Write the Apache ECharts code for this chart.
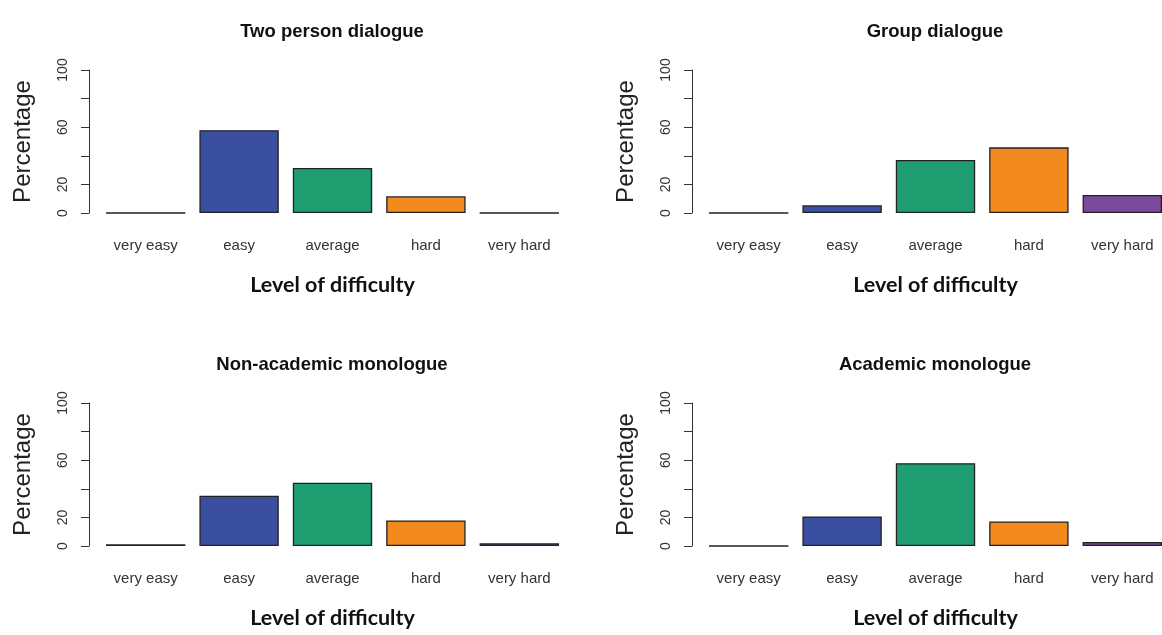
<!DOCTYPE html>
<html>
<head>
<meta charset="utf-8">
<script src="https://cdn.jsdelivr.net/npm/echarts@6/dist/echarts.min.js"></script>
<style>
html,body{margin:0;padding:0;background:#fff;overflow:hidden;}
#c{width:1180px;height:635px;}
</style>
</head>
<body>
<div id="c"></div>
<script>
const categories = ['very easy', 'easy', 'average', 'hard', 'very hard'];
const twoPerson = [0, 57.9, 31.5, 11.7, 0];
const groupDialogue = [0, 5.4, 37.1, 45.9, 12.6];
const nonAcademic = [1.2, 35.1, 44.2, 17.9, 1.9];
const academic = [0, 20.7, 57.9, 17.2, 2.8];
const panelTitles = ['Two person dialogue', 'Group dialogue', 'Non-academic monologue', 'Academic monologue'];
const yTicks = [0, 20, 60, 100];
const xTitle = 'Level of difficulty';
const yTitle = 'Percentage';
const barColors = ['#2b2b2b', '#3a4f9f', '#1f9e72', '#f28a1f', '#7b4a9c'];

const panels = [twoPerson, groupDialogue, nonAcademic, academic];
const gridPos = [
  {left: 99, top: 70},
  {left: 702, top: 70},
  {left: 99, top: 403},
  {left: 702, top: 403}
];
const sans = "'Liberation Sans', Arial, sans-serif";

const grids = [], xAxes = [], yAxes = [], series = [], titles = [];
panels.forEach((vals, i) => {
  const g = gridPos[i];
  grids.push({left: g.left, top: g.top, width: 467, height: 143, containLabel: false});
  titles.push({
    text: panelTitles[i],
    left: g.left + 228, top: g.top - 53, textAlign: 'center',
    textStyle: {fontFamily: sans, fontWeight: 'bold', fontSize: 18.5, color: '#111'}
  });
  xAxes.push({
    type: 'category', gridIndex: i, data: categories,
    axisLine: {show: false}, axisTick: {show: false},
    axisLabel: {fontFamily: sans, fontSize: 15, color: '#333', margin: 25, interval: 0},
    name: xTitle, nameLocation: 'middle', nameGap: 61,
    nameTextStyle: {fontFamily: "Lato, 'Open Sans', sans-serif", fontWeight: 'bold', fontSize: 21.5, color: '#111'}
  });
  yAxes.push({
    type: 'value', gridIndex: i, min: 0, max: 100, interval: 20, offset: 10,
    axisLine: {show: true, lineStyle: {color: '#333', width: 1}},
    axisTick: {show: true, length: 8, lineStyle: {color: '#333', width: 1}},
    splitLine: {show: false},
    axisLabel: {
      rotate: 90, fontFamily: sans, fontSize: 14, color: '#333', margin: 19,
      formatter: v => (yTicks.indexOf(v) >= 0 ? String(v) : '')
    },
    name: yTitle, nameLocation: 'middle', nameRotate: 90, nameGap: 54,
    nameTextStyle: {fontFamily: sans, fontSize: 24, color: '#222'}
  });
  series.push({
    type: 'bar', xAxisIndex: i, yAxisIndex: i,
    barCategoryGap: '15%',
    data: vals.map((v, k) => ({value: v, itemStyle: {color: barColors[k]}})),
    itemStyle: {borderColor: '#222', borderWidth: 1.3},
    silent: true
  });
});

const chart = echarts.init(document.getElementById('c'), null, {renderer: 'canvas'});
chart.setOption({
  backgroundColor: '#ffffff',
  animation: false,
  title: titles,
  grid: grids,
  xAxis: xAxes,
  yAxis: yAxes,
  series: series
});
</script>
</body>
</html>
